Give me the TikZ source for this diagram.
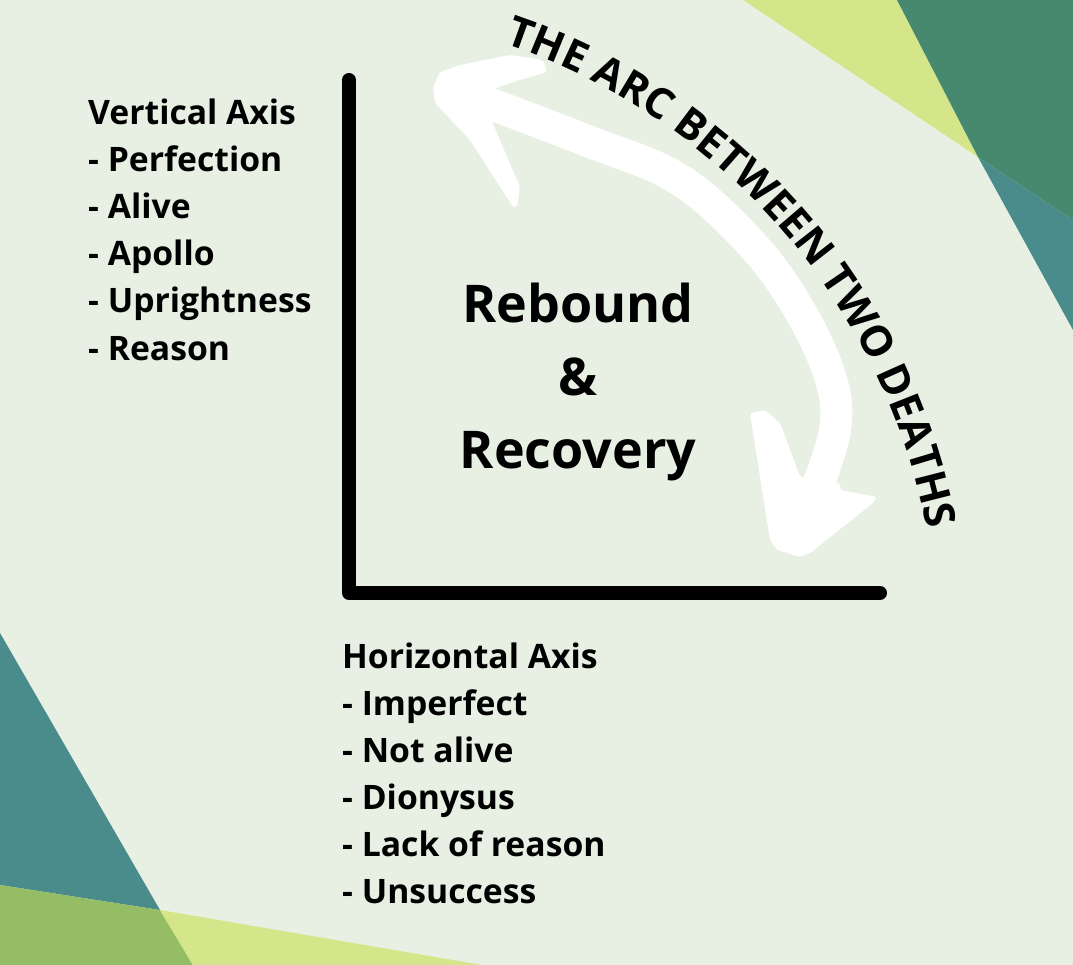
\documentclass[tikz,border=0pt]{standalone}
\usepackage{fontspec}
\setmainfont{Open Sans}
\usetikzlibrary{decorations.text}
\definecolor{bg}{HTML}{E8F0E4}
\definecolor{cteal}{HTML}{4A8B8B}
\definecolor{dgreen}{HTML}{46896E}
\definecolor{clime}{HTML}{D5E68A}
\definecolor{mgreen}{HTML}{94BD66}
\begin{document}
\begin{tikzpicture}[x=1pt,y=1pt]
\tikzset{
  lbl/.style={anchor=base west, inner sep=0pt, font=\fontsize{33.7}{40}\selectfont\bfseries},
  big/.style={anchor=base, inner sep=0pt, font=\fontsize{52}{60}\selectfont\bfseries},
  axis/.style={line width=14pt, line cap=round, line join=round, black},
  brush/.style={white, line width=32pt, line cap=round}
}
\fill[bg] (0,0) rectangle (1073,-965);
\useasboundingbox (0,0) rectangle (1073,-965);
% corner shapes
\fill[clime] (743,0) -- (897,0) -- (978,-157) -- cycle;
\fill[dgreen] (897,0) -- (1073,0) -- (1073,-220) -- (978,-157) -- cycle;
\fill[cteal] (978,-157) -- (1073,-220) -- (1073,-330) -- cycle;
\fill[cteal] (0,-633) -- (160,-910) -- (0,-885) -- cycle;
\fill[mgreen] (0,-885) -- (160,-910) -- (193,-965) -- (0,-965) -- cycle;
\fill[clime] (160,-910) -- (482,-965) -- (193,-965) -- cycle;
% axes
\coordinate (ytop) at (349,-80);
\coordinate (orig) at (349,-593);
\coordinate (xend) at (880,-593);
\draw[axis] (ytop) -- (orig) -- (xend);
% vertical axis text
\node[lbl] (v0) at (88,-125) {Vertical Axis};
\node[lbl] (v1) at (88,-172) {- Perfection};
\node[lbl] (v2) at (88,-219) {- Alive};
\node[lbl] (v3) at (88,-266) {- Apollo};
\node[lbl] (v4) at (88,-313) {- Uprightness};
\node[lbl] (v5) at (88,-360) {- Reason};
% horizontal axis text
\node[lbl] (h0) at (342,-668) {Horizontal Axis};
\node[lbl] (h1) at (342,-715) {- Imperfect};
\node[lbl] (h2) at (342,-762) {- Not alive};
\node[lbl] (h3) at (342,-809) {- Dionysus};
\node[lbl] (h4) at (342,-856) {- Lack of reason};
\node[lbl] (h5) at (342,-903) {- Unsuccess};
% centre text
\node[big] (r1) at (578,-323) {Rebound};
\node[big] (r2) at (578,-395) {\&};
\node[big] (r3) at (578,-468) {Recovery};
% arrow
\draw[brush] plot[smooth, tension=0.6] coordinates {(480,-100) (585,-140) (680,-180) (757,-250) (805,-320) (832,-383) (835,-430) (818,-485)};
\fill[white, rounded corners=3pt] (440,-72) -- (460,-65) -- (510,-55) -- (543,-60) -- (547,-72) -- (520,-80) -- (490,-90) -- (490,-117) -- (520,-187) -- (517,-207) -- (513,-207) -- (470,-140) -- (435,-103) -- (433,-87) -- cycle;
\fill[white, rounded corners=3pt] (750,-413) -- (765,-410) -- (780,-423) -- (800,-477) -- (840,-483) -- (840,-490) -- (877,-497) -- (873,-503) -- (810,-553) -- (800,-557) -- (777,-550) -- (770,-540) -- cycle;
% arc text
\path[decorate, decoration={text along path, text align=center,
  text={|\fontsize{42.5}{42.5}\selectfont\bfseries|THE ARC BETWEEN TWO DEATHS}}]
  (300,-648) ++(72:638) arc[start angle=72, end angle=10, radius=638];
\end{tikzpicture}
\end{document}
